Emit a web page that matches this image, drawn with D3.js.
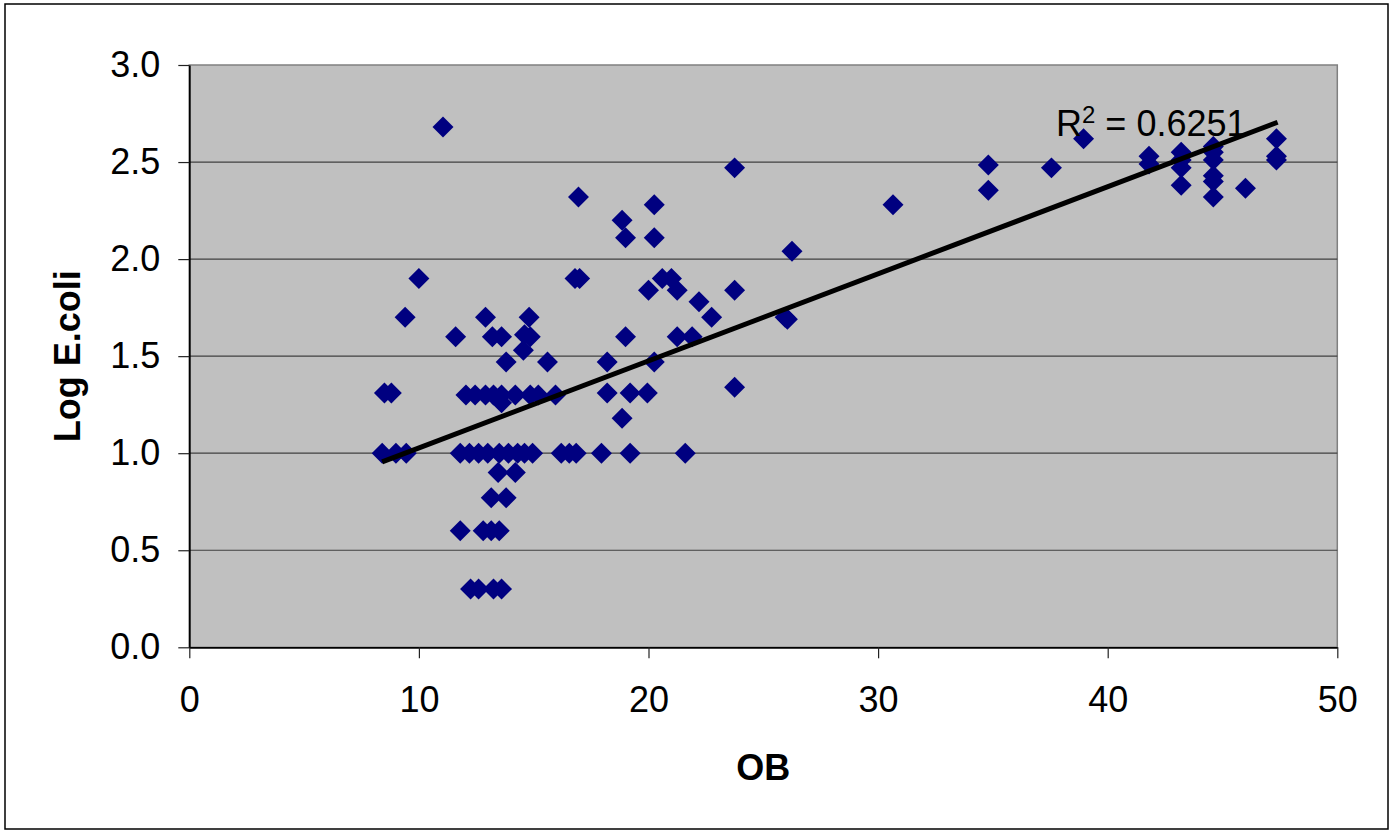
<!DOCTYPE html>
<meta charset="utf-8">
<script src="https://d3js.org/d3.v7.min.js"></script>
<style>
  body { margin: 0; background: #fff; }
  text { font-family: "Liberation Sans", Arial, sans-serif; }
</style>
<div id="chart"></div>
<script>

// values
const ob = [
  10.0, 16.8, 17.0, 9.4, 12.9, 14.8, 11.6, 13.2, 13.6, 14.6, 14.85, 14.55,
  13.8, 15.6, 18.2, 8.5, 8.8,
  12.05, 12.45, 12.9, 13.25, 13.6, 14.2, 14.85, 15.2, 15.95,
  13.6, 18.2,
  8.4, 9.0, 9.45,
  11.8, 12.2, 12.6, 13.0, 13.5, 13.9, 14.3, 14.6, 14.95,
  16.2, 16.55, 16.85, 17.95, 19.2, 21.6,
  13.45, 14.2, 13.15, 13.8,
  11.8, 12.8, 13.15, 13.5,
  12.25, 12.6, 13.25, 13.6,
  11.05, 16.95, 23.75, 20.25, 18.85, 19.0, 20.25, 26.25,
  20.6, 21.0, 20.0, 21.25, 23.75, 22.2, 22.75, 25.95, 26.05,
  19.0, 21.25, 21.9, 20.25, 23.75, 19.2, 19.95, 18.85,
  30.65, 34.8, 34.8, 37.55, 38.95, 41.8, 41.8,
  43.2, 43.2, 43.2, 43.2,
  44.6, 44.6, 44.6, 44.6, 44.6, 44.6,
  46.0, 47.35, 47.35, 47.35
];
const logEcoli = [
  1.90, 1.90, 1.90, 1.70, 1.70, 1.70, 1.60, 1.60, 1.60, 1.61, 1.60, 1.53,
  1.47, 1.47, 1.47, 1.31, 1.31,
  1.30, 1.30, 1.30, 1.30, 1.30, 1.30, 1.30, 1.30, 1.30,
  1.26, 1.31,
  1.00, 1.00, 1.00,
  1.00, 1.00, 1.00, 1.00, 1.00, 1.00, 1.00, 1.00, 1.00,
  1.00, 1.00, 1.00, 1.00, 1.00, 1.00,
  0.90, 0.90, 0.77, 0.77,
  0.60, 0.60, 0.60, 0.60,
  0.30, 0.30, 0.30, 0.30,
  2.68, 2.32, 2.47, 2.28, 2.20, 2.11, 2.11, 2.04,
  1.90, 1.90, 1.84, 1.84, 1.84, 1.78, 1.70, 1.70, 1.69,
  1.60, 1.60, 1.60, 1.47, 1.34, 1.31, 1.31, 1.18,
  2.28, 2.485, 2.355, 2.47, 2.62, 2.53, 2.49,
  2.55, 2.51, 2.47, 2.38,
  2.58, 2.55, 2.51, 2.43, 2.40, 2.32,
  2.365, 2.62, 2.53, 2.51
];

// linear trend line ends
const trendOB = [8.4, 47.4];
const trendLog = [0.955, 2.705];
const rSquared = "0.6251";

const xTicks = [0, 10, 20, 30, 40, 50];
const yTicks = [0, 0.5, 1.0, 1.5, 2.0, 2.5, 3.0];

const W = 1397, H = 833;
const plot = {left: 189.3, top: 65, right: 1337.3, bottom: 647.3};

const svg = d3.select("#chart").append("svg")
    .attr("width", W)
    .attr("height", H);

// outer chart border
svg.append("rect")
    .attr("x", 5).attr("y", 4)
    .attr("width", 1383).attr("height", 825)
    .attr("fill", "#fff")
    .attr("stroke", "#000")
    .attr("stroke-width", 1.5);

const x = d3.scaleLinear().domain([0, 50]).range([plot.left, plot.right]);
const y = d3.scaleLinear().domain([0, 3]).range([plot.bottom, plot.top]);

// plot area
svg.append("rect")
    .attr("x", plot.left).attr("y", plot.top)
    .attr("width", plot.right - plot.left)
    .attr("height", plot.bottom - plot.top)
    .attr("fill", "#c0c0c0")
    .attr("stroke", "#808080")
    .attr("stroke-width", 1.5);

// gridlines
svg.append("g")
  .selectAll("line")
  .data(yTicks.filter(d => d > 0 && d < 3))
  .join("line")
    .attr("x1", plot.left).attr("x2", plot.right)
    .attr("y1", d => y(d)).attr("y2", d => y(d))
    .attr("stroke", "#404040")
    .attr("stroke-width", 1.2);

// axes
const xAxis = svg.append("g")
    .attr("transform", `translate(0, ${plot.bottom})`)
    .call(d3.axisBottom(x).tickValues(xTicks).tickSize(11).tickSizeOuter(0).tickPadding(28));

const yAxis = svg.append("g")
    .attr("transform", `translate(${plot.left}, 0)`)
    .call(d3.axisLeft(y).tickValues(yTicks).tickSize(11).tickSizeOuter(0).tickPadding(18)
      .tickFormat(d3.format(".1f")));

[xAxis, yAxis].forEach(a => {
  a.select(".domain").attr("stroke", "#000").attr("stroke-width", 1.8);
  a.selectAll(".tick line").attr("stroke", "#222").attr("stroke-width", 1.2);
  a.selectAll(".tick text").attr("font-size", 36).attr("fill", "#000")
    .style("font-family", '"Liberation Sans", Arial, sans-serif');
});

// points
const points = ob.map((v, i) => ({ob: v, log: logEcoli[i]}));
const diamond = d3.symbol().type(d3.symbolSquare).size(220);

svg.append("g")
  .selectAll("path")
  .data(points)
  .join("path")
    .attr("d", diamond)
    .attr("transform", d => `translate(${x(d.ob)}, ${y(d.log)}) rotate(45)`)
    .attr("fill", "#000080");

// trend line
svg.append("line")
    .attr("x1", x(trendOB[0])).attr("y1", y(trendLog[0]))
    .attr("x2", x(trendOB[1])).attr("y2", y(trendLog[1]))
    .attr("stroke", "#000")
    .attr("stroke-width", 5);

// R squared label
const rText = svg.append("text")
    .attr("x", 1056).attr("y", 136)
    .attr("font-size", 36)
    .attr("fill", "#000");
rText.append("tspan").text("R");
rText.append("tspan").attr("font-size", 24).attr("dy", -13).text("2");
rText.append("tspan").attr("dy", 13).text(" = " + rSquared);

// axis titles
svg.append("text")
    .attr("x", (plot.left + plot.right) / 2)
    .attr("y", 780)
    .attr("text-anchor", "middle")
    .attr("font-size", 36)
    .attr("font-weight", "bold")
    .text("OB");

svg.append("text")
    .attr("transform", `translate(80, ${(plot.top + plot.bottom) / 2}) rotate(-90)`)
    .attr("text-anchor", "middle")
    .attr("font-size", 36)
    .attr("font-weight", "bold")
    .text("Log E.coli");

</script>
